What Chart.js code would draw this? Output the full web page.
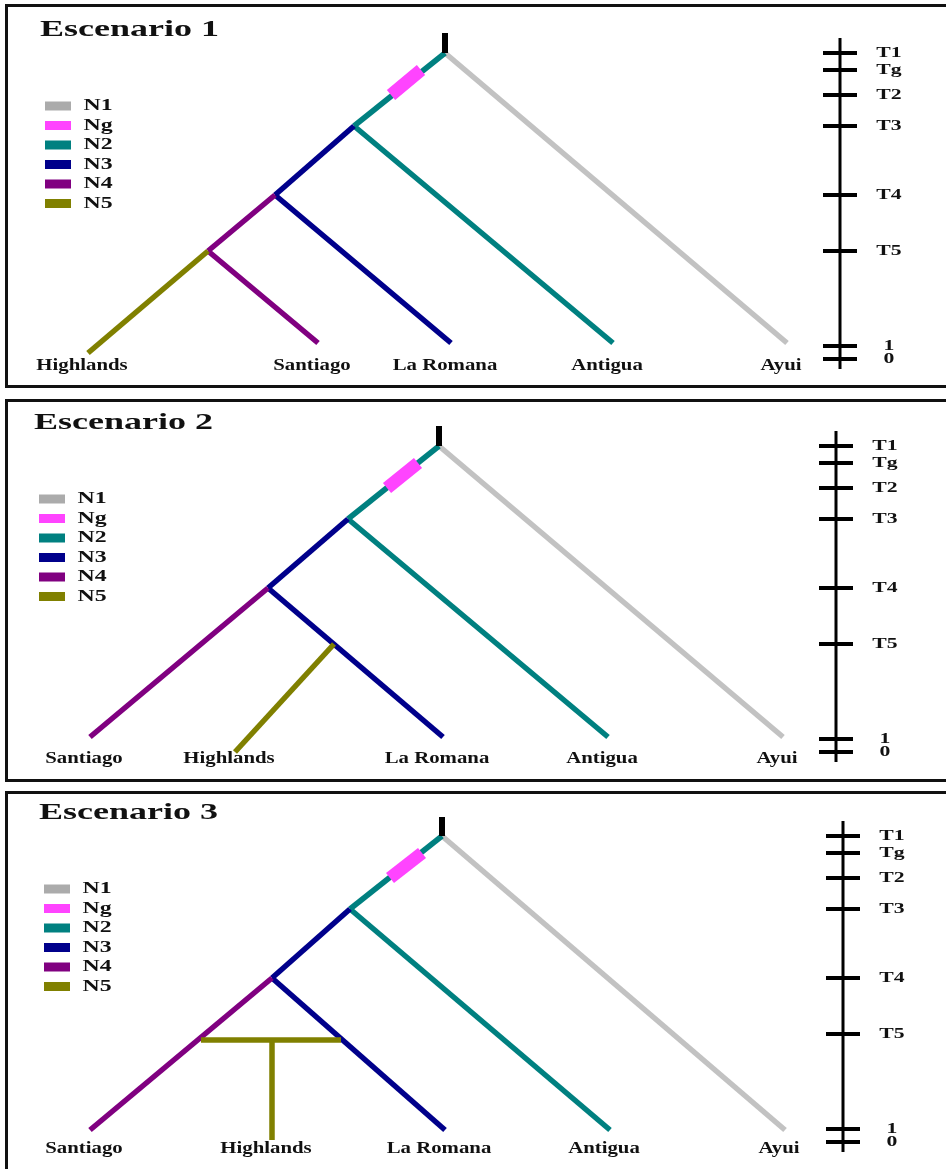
<!DOCTYPE html>
<html>
<head>
<meta charset="utf-8">
<title>Escenarios</title>
<script src="https://cdn.jsdelivr.net/npm/chart.js@4.4.1/dist/chart.umd.min.js"></script>
<style>
  html, body { margin: 0; padding: 0; background: #fff; width: 946px; height: 1169px; overflow: hidden; position: relative; }
  .frame { position: absolute; left: 5px; width: 1000px; border: 3px solid #111; box-sizing: border-box; }
  canvas { position: absolute; left: 0; }
</style>
</head>
<body>
<div class="frame" style="top:4px;height:384px"></div>
<div class="frame" style="top:399px;height:383px"></div>
<div class="frame" style="top:791px;height:420px"></div>
<canvas id="s1" width="946" height="382" style="top:5px"></canvas>
<canvas id="s2" width="946" height="382" style="top:398px"></canvas>
<canvas id="s3" width="946" height="382" style="top:788px"></canvas>
<script>
// ---- Time scale (relative units, 0 = present) ----
const timeLabels = ['0', '1', 'T5', 'T4', 'T3', 'T2', 'Tg', 'T1'];
const timeValues = [0, 13, 108, 164, 233, 264, 289, 306];

// ---- Effective population sizes in the legend ----
const populations = ['N1', 'Ng', 'N2', 'N3', 'N4', 'N5'];

// ---- Scenario titles ----
const scenarioTitles = ['Escenario 1', 'Escenario 2', 'Escenario 3'];

// ---- Sampled populations (tips), left to right, with their positions ----
const samples1 = ['Highlands', 'Santiago', 'La Romana', 'Antigua', 'Ayui'];
const tipX1 = [88, 318, 451, 613, 787];
const samples2 = ['Santiago', 'Highlands', 'La Romana', 'Antigua', 'Ayui'];
const tipX2 = [90, 235, 443, 608, 783];
const samples3 = ['Santiago', 'Highlands', 'La Romana', 'Antigua', 'Ayui'];
const tipX3 = [90, 272, 445, 610, 785];

// ---- Branches: [population, x from, time from, x to, time to] ----
const branches1 = [
  ['N1', 445, 306, 787, 16],
  ['N2', 445, 306, 354, 233],
  ['N2', 354, 233, 613, 16],
  ['N3', 354, 233, 275, 164],
  ['N3', 275, 164, 451, 16],
  ['N4', 275, 164, 208, 108],
  ['N4', 208, 108, 318, 16],
  ['N5', 208, 108, 88, 6],
  ['Ng', 421, 289, 391, 264]
];
const branches2 = [
  ['N1', 439, 306, 783, 15],
  ['N2', 439, 306, 348, 233],
  ['N2', 348, 233, 608, 15],
  ['N3', 348, 233, 268, 164],
  ['N3', 268, 164, 443, 15],
  ['N4', 268, 164, 90, 15],
  ['N5', 334, 108, 235, 0],
  ['Ng', 418, 289, 387, 264]
];
const branches3 = [
  ['N1', 442, 306, 785, 12],
  ['N2', 442, 306, 350, 233],
  ['N2', 350, 233, 610, 12],
  ['N3', 350, 233, 272, 164],
  ['N3', 272, 164, 445, 12],
  ['N4', 272, 164, 90, 12],
  ['N5', 201, 102, 341, 102],
  ['N5', 272, 102, 272, 2],
  ['Ng', 422, 289, 390, 264]
];

// ---- Ancestral stub above the root: [x, time from, time to] ----
const rootStubs = [[445, 306, 326], [439, 306, 326], [442, 306, 325]];

// ---- Where the time scale sits on each panel's x axis ----
const timeAxisX = [840, 836, 843];
const timeAxisRange = [-10, 321];

// ---- Styling ----
const popColor = { N1: '#c2c2c2', Ng: '#ff44ff', N2: '#008080', N3: '#00008b', N4: '#800080', N5: '#808000' };
const legendColor = { N1: '#ababab', Ng: '#ff44ff', N2: '#008080', N3: '#00008b', N4: '#800080', N5: '#808000' };
const drawOrder = ['N1', 'N2', 'N3', 'N4', 'N5', 'Ng'];
const SERIF = '"Liberation Serif", "Times New Roman", serif';
const BRANCH_W = 5.5;
const NG_W = 13;

function seg(x1, y1, x2, y2, color, width) {
  return {
    data: [{ x: x1, y: y1 }, { x: x2, y: y2 }],
    showLine: true,
    borderColor: color,
    backgroundColor: color,
    borderWidth: width,
    borderCapStyle: 'butt',
    pointRadius: 0,
    pointHoverRadius: 0,
    tension: 0,
    clip: false
  };
}

// Bold serif text stretched horizontally, as in the printed figure
function stretchedText(ctx, text, x, y, size, sx, align) {
  ctx.save();
  ctx.font = 'bold ' + size + 'px ' + SERIF;
  ctx.fillStyle = '#111';
  ctx.textBaseline = 'middle';
  ctx.textAlign = align;
  ctx.translate(x, y);
  ctx.scale(sx, 1);
  ctx.fillText(text, 0, 0);
  ctx.restore();
}

function buildScenario(canvasId, idx, branches, samples, tipX, shift) {
  const datasets = [];
  // tree branches, bottom layer first
  drawOrder.forEach(pop => {
    branches.filter(b => b[0] === pop).forEach(b => {
      datasets.push(seg(b[1], b[2], b[3], b[4], popColor[pop], pop === 'Ng' ? NG_W : BRANCH_W));
    });
  });
  // ancestral stub
  const r = rootStubs[idx];
  datasets.push(seg(r[0], r[1], r[0], r[2], '#000', 6));
  // time scale: spine and cross ticks
  const ax = timeAxisX[idx];
  datasets.push(seg(ax, timeAxisRange[0], ax, timeAxisRange[1], '#000', 3));
  timeValues.forEach(t => datasets.push(seg(ax - 17, t, ax + 17, t, '#000', 4)));

  // Chart.js paints the first dataset on top, so reverse the layer order
  datasets.reverse();

  const textPlugin = {
    id: 'scenarioText',
    afterDatasetsDraw(chart) {
      const ctx = chart.ctx;
      const area = chart.chartArea;
      const xs = chart.scales.x;
      const ys = chart.scales.y;

      // title
      stretchedText(ctx, scenarioTitles[idx], area.left + 40 + shift, area.top + 25, 24, 1.5, 'left');

      // legend
      populations.forEach((p, i) => {
        const cy = area.top + 101 + i * 19.5;
        ctx.fillStyle = legendColor[p];
        ctx.fillRect(area.left + 45 + shift, cy - 4.5, 26, 9);
        stretchedText(ctx, p, area.left + 98 + shift, cy, 17, 1.4, 'center');
      });

      // sample names under the tips
      const labelY = ys.getPixelForValue(0) + 7;
      samples.forEach((s, i) => {
        stretchedText(ctx, s, xs.getPixelForValue(tipX[i]) - 6, labelY, 16, 1.3, 'center');
      });

      // time scale labels
      const lx = xs.getPixelForValue(ax) + 49;
      timeLabels.forEach((lab, i) => {
        stretchedText(ctx, lab, lx, ys.getPixelForValue(timeValues[i]), 14, 1.55, 'center');
      });
    }
  };

  return new Chart(document.getElementById(canvasId), {
    type: 'scatter',
    data: { datasets },
    options: {
      responsive: false,
      animation: false,
      devicePixelRatio: 1,
      events: [],
      layout: { padding: 0 },
      plugins: { legend: { display: false }, tooltip: { enabled: false } },
      scales: {
        x: { type: 'linear', min: 0, max: 946, display: false },
        y: { type: 'linear', min: -28, max: 354, display: false }
      }
    },
    plugins: [textPlugin]
  });
}

buildScenario('s1', 0, branches1, samples1, tipX1, 0);
buildScenario('s2', 1, branches2, samples2, tipX2, -6);
buildScenario('s3', 2, branches3, samples3, tipX3, -1);
</script>
</body>
</html>
